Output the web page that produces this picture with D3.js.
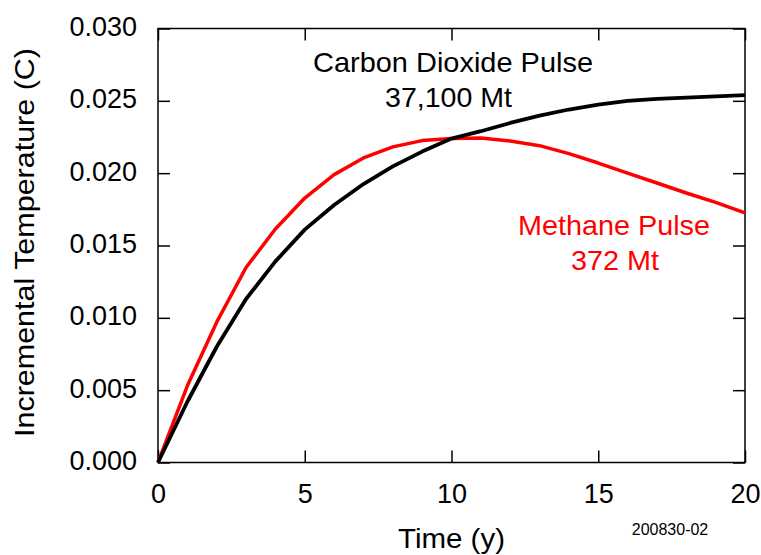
<!DOCTYPE html>
<html><head><meta charset="utf-8">
<script src="https://cdn.jsdelivr.net/npm/d3@7"></script>
<style>
html,body{margin:0;padding:0;background:#fff;}
text{font-family:"Liberation Sans",Arial,sans-serif;}
</style></head>
<body>
<svg id="chart" width="761" height="555"></svg>
<script>
const years = [0,1,2,3,4,5,6,7,8,9,10,11,12,13,14,15,16,17,18,19,20];
const co2 = [0,0.0042,0.0080,0.0113,0.0139,0.0161,0.0178,0.01925,0.02047,0.02149,0.02239,0.02290,0.02347,0.02398,0.0244,0.02474,0.02500,0.02513,0.02522,0.02531,0.0254];
const ch4 = [0,0.0053,0.0097,0.01348,0.01614,0.01828,0.01990,0.02105,0.02182,0.02225,0.02240,0.02243,0.02222,0.0219,0.02135,0.0207,0.0200,0.01932,0.01863,0.01798,0.01725];
const xTicks = [0,5,10,15,20];
const yTicks = [0,0.005,0.010,0.015,0.020,0.025,0.030];

const svg = d3.select("#chart");
const L=158, R=745, T=28.5, B=462.5;
const x = d3.scaleLinear().domain([0,20]).range([L,R]);
const y = d3.scaleLinear().domain([0,0.030]).range([B,T]);
const tl = 12;

// frame
svg.append("rect").attr("x",L).attr("y",T).attr("width",R-L).attr("height",B-T)
  .attr("fill","none").attr("stroke","#000").attr("stroke-width",1.5);

// axes
const xb = svg.append("g").attr("transform",`translate(0,${B})`)
  .call(d3.axisBottom(x).tickValues(xTicks).tickFormat(d3.format("d")).tickSizeInner(-tl).tickSizeOuter(0).tickPadding(tl+14));
const xt = svg.append("g").attr("transform",`translate(0,${T})`)
  .call(d3.axisTop(x).tickValues(xTicks).tickFormat("").tickSizeInner(-tl).tickSizeOuter(0));
const yl = svg.append("g").attr("transform",`translate(${L},0)`)
  .call(d3.axisLeft(y).tickValues(yTicks).tickFormat(d3.format(".3f")).tickSizeInner(-tl).tickSizeOuter(0).tickPadding(tl+9));
const yr = svg.append("g").attr("transform",`translate(${R},0)`)
  .call(d3.axisRight(y).tickValues(yTicks).tickFormat("").tickSizeInner(-tl).tickSizeOuter(0));
[xb,xt,yl,yr].forEach(g=>{
  g.select(".domain").remove();
  g.selectAll(".tick line").attr("stroke","#000").attr("stroke-width",1.5);
  g.selectAll("text").attr("fill","#000").style("font-size","27px").style("font-family","'Liberation Sans',Arial,sans-serif");
});
xb.selectAll(".tick text").attr("dy",null).attr("y",40);
yl.selectAll(".tick text").attr("dy","0.26em");

// lines
const line = d3.line().x((d,i)=>x(years[i])).y(d=>y(d));
svg.append("path").datum(ch4).attr("d",line).attr("fill","none")
  .attr("stroke","#ff0000").attr("stroke-width",3.5).attr("stroke-linejoin","round");
svg.append("path").datum(co2).attr("d",line).attr("fill","none")
  .attr("stroke","#000").attr("stroke-width",3.8).attr("stroke-linejoin","round");

// labels
function txt(s,xp,yp,size,len,color){
  return svg.append("text").attr("x",xp).attr("y",yp).attr("text-anchor","middle")
    .style("font-size",size+"px").attr("fill",color||"#000")
    .attr("textLength",len).attr("lengthAdjust","spacingAndGlyphs").text(s);
}
txt("Carbon Dioxide Pulse",453,72,28,280);
txt("37,100 Mt",448.5,107,28,127);
txt("Methane Pulse",614,235,28,192,"#ff0000");
txt("372 Mt",615,270,28,88,"#ff0000");
txt("Time (y)",451.5,548,28,107);
svg.append("text").attr("transform","translate(34,242.5) rotate(-90)").attr("text-anchor","middle")
  .style("font-size","28px").attr("textLength",389).attr("lengthAdjust","spacingAndGlyphs")
  .text("Incremental Temperature (C)");
svg.append("text").attr("x",670).attr("y",535).attr("text-anchor","middle")
  .style("font-size","16px").text("200830-02");
</script>
</body></html>
